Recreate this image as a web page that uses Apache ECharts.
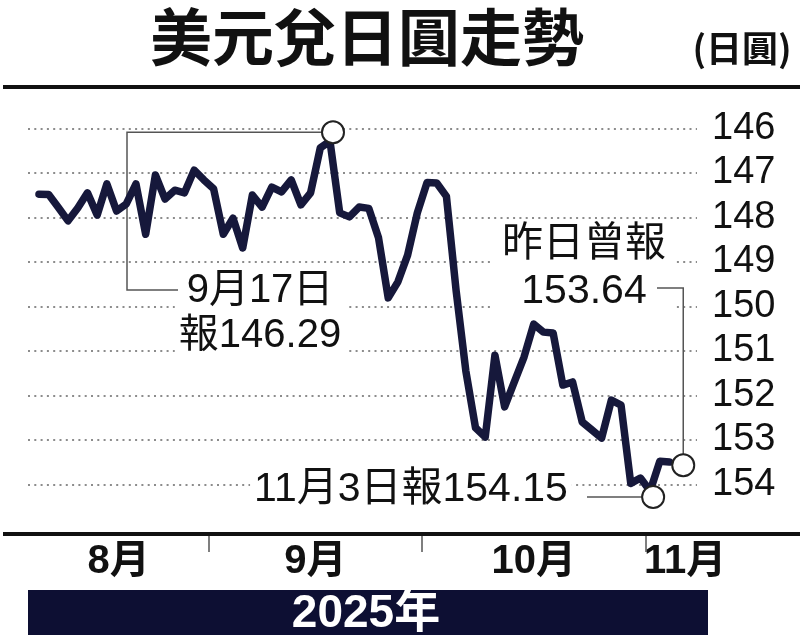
<!DOCTYPE html>
<html>
<head>
<meta charset="utf-8">
<script src="https://cdn.jsdelivr.net/npm/echarts@6/dist/echarts.min.js"></script>
<style>
html,body{margin:0;padding:0;background:#fff;}
#c{width:800px;height:635px;}
</style>
</head>
<body>
<div id="c"></div>
<script>
// ---- data ----
const tradingDays = [
  '8/1','8/4','8/5','8/6','8/7','8/8','8/11','8/12','8/13','8/14','8/15','8/18','8/19','8/20','8/21','8/22','8/25','8/26','8/27','8/28','8/29',
  '9/1','9/2','9/3','9/4','9/5','9/8','9/9','9/10','9/11','9/12','9/15','9/16','9/17','9/18','9/19','9/22','9/23','9/24','9/25','9/26','9/29','9/30',
  '10/1','10/2','10/3','10/6','10/7','10/8','10/9','10/10','10/13','10/14','10/15','10/16','10/17','10/20','10/21','10/22','10/23','10/24','10/27','10/28','10/29','10/30','10/31',
  '11/3','11/4','11/5','11/6'
];
const lineStart = '8/6';
const lineEnd = '11/5';
const usdJpy = [
  147.48,147.49,147.78,148.08,147.79,147.45,147.95,147.25,147.86,147.70,
  147.25,148.38,147.05,147.59,147.39,147.45,146.94,147.16,147.36,148.38,
  148.02,148.69,147.50,147.77,147.32,147.43,147.16,147.72,147.45,146.44,
  146.29,147.90,147.99,147.77,147.80,148.46,149.81,149.45,148.85,147.90,
  147.22,147.23,147.53,149.65,151.45,152.73,152.94,151.10,152.26,151.70,
  151.14,150.40,150.58,150.60,151.77,151.70,152.60,152.78,152.96,152.11,
  152.22,153.98,153.86,154.15,153.48,153.50
];
const yTicks = [146,147,148,149,150,151,152,153,154];
const monthNames = ['8月','9月','10月','11月'];
const noteDates = ['9/17','11/3','11/6'];
const noteValues = [146.29, 154.15, 153.64];

// ---- build ----
const i0 = tradingDays.indexOf(lineStart);
const i1 = tradingDays.indexOf(lineEnd);
const lineDates = tradingDays.slice(i0, i1 + 1);
const lineData = lineDates.map((d, k) => [tradingDays.indexOf(d), usdJpy[k]]);

// month boundaries (between last day of a month and first of next)
const monthBoundaries = [];
for (let k = 1; k < tradingDays.length; k++) {
  if (tradingDays[k].split('/')[0] !== tradingDays[k - 1].split('/')[0]) monthBoundaries.push(k - 0.5);
}
const monthLabelPos = [11.2, 31.5, 54, 69.6];

const noteOffsets = [[3, -9], [3, 6], [4, -3]];
const noteData = noteDates.map((d, k) => ({
  value: [tradingDays.indexOf(d), noteValues[k]],
  symbolOffset: noteOffsets[k]
}));

const FONT = "'Liberation Sans', 'Noto Sans CJK TC', sans-serif";
const NAVY = '#16183b';

const chart = echarts.init(document.getElementById('c'), null, { renderer: 'canvas' });
const option = {
  animation: false,
  backgroundColor: '#fff',
  title: {
    text: '美元兌日圓走勢',
    left: 145, top: 1,
    textStyle: { fontSize: 62, fontWeight: 'bold', color: '#111', fontFamily: "'Noto Sans CJK TC', sans-serif" }
  },
  grid: { left: 28, right: 103, top: 128.3, bottom: 150.7, outerBoundsMode: 'none', containLabel: false },
  xAxis: {
    type: 'value',
    min: 1.87, max: 70.83,
    offset: 48.7,
    axisLine: { show: false },
    splitLine: { show: false },
    axisTick: { show: true, customValues: monthBoundaries, length: 19, inside: false,
      lineStyle: { color: '#555', width: 1.5 } },
    axisLabel: {
      customValues: monthLabelPos,
      formatter: (v) => monthNames[monthLabelPos.indexOf(v)] || '',
      fontSize: 40, fontWeight: 'bold', color: '#111', fontFamily: FONT,
      margin: 29, verticalAlign: 'middle'
    }
  },
  yAxis: {
    type: 'value', inverse: true, position: 'right',
    min: yTicks[0], max: yTicks[yTicks.length - 1], interval: 1,
    axisLine: { show: false }, axisTick: { show: false },
    splitLine: { show: true, lineStyle: { color: '#8c8c8c', width: 2, type: [2, 4.3] } },
    axisLabel: { margin: 15, fontSize: 38, color: '#111', fontFamily: FONT }
  },
  series: [
    {
      type: 'line', data: lineData, symbol: 'none', clip: false, z: 3,
      lineStyle: { color: NAVY, width: 7.5, join: 'round', cap: 'round' }
    },
    {
      type: 'scatter', data: noteData, clip: false, z: 5,
      symbol: 'circle', symbolSize: 22,
      itemStyle: { color: '#fff', borderColor: '#222', borderWidth: 2, opacity: 1 }
    }
  ]
};
chart.setOption(option);

const c = noteData.map((n) => {
  const p = chart.convertToPixel({ gridIndex: 0 }, n.value);
  return [p[0] + n.symbolOffset[0], p[1] + n.symbolOffset[1]];
});
const R = 11;
const lineSty = { stroke: '#555', lineWidth: 1.5, fill: null };
chart.setOption({
  graphic: [
    { type: 'rect', z: 10, shape: { x: 3, y: 85, width: 797, height: 4 }, style: { fill: '#111' } },
    { type: 'rect', z: 10, shape: { x: 3, y: 532, width: 797, height: 4 }, style: { fill: '#111' } },
    { type: 'text', z: 10, x: 742, y: 48, style: { text: '(日圓)', fill: '#111', align: 'center', verticalAlign: 'middle',
      font: "bold 36px 'Liberation Sans Narrow', 'Noto Sans CJK TC', sans-serif" } },
    { type: 'rect', z: 10, shape: { x: 28, y: 590, width: 680, height: 45 }, style: { fill: '#0d0f33' } },
    { type: 'text', z: 11, x: 366, y: 614, style: { text: '2025年', fill: '#fff', align: 'center', verticalAlign: 'middle',
      font: "bold 46px " + FONT } },
    // annotation texts with white backing
    { type: 'text', z: 1, x: 260, y: 313, style: { text: '9月17日\n報146.29', fill: '#111', align: 'center', verticalAlign: 'middle',
      font: "40px " + FONT, lineHeight: 45, backgroundColor: '#fff', padding: [2, 4] } },
    { type: 'text', z: 1, x: 584, y: 268, style: { text: '昨日曾報\n153.64', fill: '#111', align: 'center', verticalAlign: 'middle',
      font: "41px " + FONT, lineHeight: 47, backgroundColor: '#fff', padding: [2, 8] } },
    { type: 'text', z: 1, x: 411, y: 490, style: { text: '11月3日報154.15', fill: '#111', align: 'center', verticalAlign: 'middle',
      font: "41px " + FONT, backgroundColor: '#fff', padding: [0, 4] } },
    // leader lines
    { type: 'polyline', z: 2, shape: { points: [[c[0][0] - R, c[0][1]], [127, c[0][1]], [127, 290], [178, 290]] }, style: lineSty },
    { type: 'polyline', z: 2, shape: { points: [[657, 288], [c[2][0], 288], [c[2][0], c[2][1] - R]] }, style: lineSty },
    { type: 'polyline', z: 2, shape: { points: [[587, c[1][1]], [c[1][0] - R, c[1][1]]] }, style: lineSty }
  ]
});
</script>
</body>
</html>
